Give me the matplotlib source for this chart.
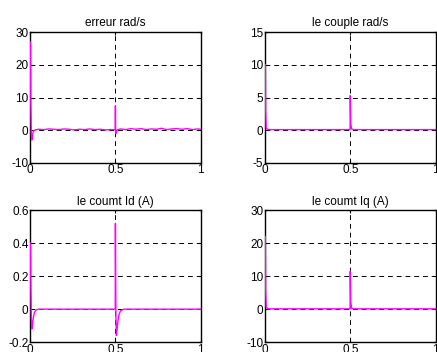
import matplotlib.pyplot as plt

plt.rcParams['font.family'] = ['Liberation Sans', 'DejaVu Sans']

# erreur rad/s
t_err = [0.003, 0.005, 0.008, 0.011, 0.015, 0.020, 0.03, 0.05, 0.08, 0.11, 0.14, 0.17, 0.20,
         0.23, 0.26, 0.29, 0.32, 0.35, 0.38, 0.41, 0.44, 0.47, 0.499, 0.500, 0.501,
         0.503, 0.506, 0.51, 0.53, 0.56, 0.59, 0.62, 0.65, 0.68, 0.71, 0.74, 0.77,
         0.80, 0.83, 0.86, 0.89, 0.92, 0.95, 0.98, 1.0]
erreur = [27, 8, -1, -3, -1.5, -0.3, 0.1, 0.3, 0.2, 0.4, 0.3, 0.2, 0.4, 0.3, 0.1, 0.3,
          0.2, 0.4, 0.2, 0.3, 0.1, 0.2, 0.2, 7.5, 1.0, -1.0, -0.4, 0.1, 0.4, 0.2, 0.5,
          0.3, 0.5, 0.2, 0.4, 0.3, 0.6, 0.2, 0.4, 0.5, 0.3, 0.5, 0.2, 0.4, 0.3]

# le couple rad/s
t_cpl = [0.003, 0.005, 0.008, 0.02, 0.499, 0.500, 0.503, 0.508, 0.52, 1.0]
couple = [10, 3, 0.3, 0.1, 0.1, 5.3, 1.0, 0.2, 0.1, 0.1]

# le courant Id (A)
t_id = [0.003, 0.005, 0.008, 0.011, 0.015, 0.020, 0.026, 0.035, 0.05, 0.499, 0.500,
        0.501, 0.503, 0.506, 0.510, 0.515, 0.522, 0.530, 0.55, 1.0]
i_d = [0.4, 0.15, -0.05, -0.12, -0.09, -0.05, -0.02, -0.005, 0.0, 0.0, 0.52, 0.3,
       -0.05, -0.16, -0.12, -0.07, -0.03, -0.01, 0.0, 0.0]

# le courant Iq (A)
t_iq = [0.003, 0.005, 0.008, 0.02, 0.499, 0.500, 0.503, 0.508, 0.52, 1.0]
i_q = [22, 6, 0.6, 0.1, 0.1, 11.5, 2.0, 0.3, 0.1, 0.1]

panels = [
    (t_err, erreur, "erreur rad/s", (-10, 30), [-10, 0, 10, 20, 30], ["-10", "0", "10", "20", "30"]),
    (t_cpl, couple, "le couple rad/s", (-5, 15), [-5, 0, 5, 10, 15], ["-5", "0", "5", "10", "15"]),
    (t_id, i_d, "le coumt Id (A)", (-0.2, 0.6), [-0.2, 0, 0.2, 0.4, 0.6], ["-0.2", "0", "0.2", "0.4", "0.6"]),
    (t_iq, i_q, "le coumt Iq (A)", (-10, 30), [-10, 0, 10, 20, 30], ["-10", "0", "10", "20", "30"]),
]

boxes = [
    [0.0686, 0.537, 0.391, 0.372],
    [0.606, 0.537, 0.391, 0.372],
    [0.0686, 0.028, 0.391, 0.375],
    [0.606, 0.028, 0.391, 0.375],
]

fig = plt.figure(figsize=(4.37, 3.52), dpi=100)
for (t, y, title, ylim, yt, ytl), box in zip(panels, boxes):
    ax = fig.add_axes(box)
    ax.plot(t, y, color="#ff00ff", linewidth=1.0, zorder=3)
    ax.set_xlim(0, 1)
    ax.set_ylim(*ylim)
    ax.set_xticks([0, 0.5, 1])
    ax.set_xticklabels(["0", "0.5", "1"])
    ax.set_yticks(yt)
    ax.set_yticklabels(ytl)
    ax.grid(True, color="black", linestyle=(0, (5, 4)), linewidth=0.7)
    ax.tick_params(direction="in", length=2, labelsize=8.5, pad=1,
                   top=True, right=True)
    for s in ax.spines.values():
        s.set_linewidth(1.0)
    ax.set_title(title, fontsize=8.5, pad=4)

fig.savefig("out.png", dpi=100)
